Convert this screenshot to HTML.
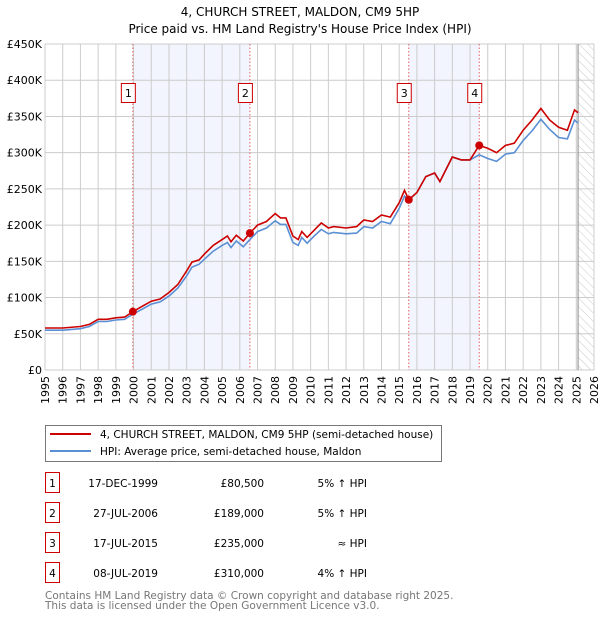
<!DOCTYPE html>
<html><head><meta charset="utf-8"><style>
body{margin:0;background:#fff;}
svg{display:block;font-family:"DejaVu Sans","Liberation Sans",sans-serif;}
</style></head><body>
<svg id="c" width="600" height="620" viewBox="0 0 600 620">
<defs><pattern id="hatch" width="6" height="6" patternUnits="userSpaceOnUse" patternTransform="rotate(-45)"><line x1="0" y1="0" x2="0" y2="6" stroke="#bbb" stroke-width="0.8"/></pattern></defs>
<text x="300" y="16" text-anchor="middle" font-size="12" fill="#000">4, CHURCH STREET, MALDON, CM9 5HP</text>
<text x="300" y="33" text-anchor="middle" font-size="12" fill="#000">Price paid vs. HM Land Registry's House Price Index (HPI)</text>
<g id="bands"></g><g id="grid"></g><g id="vlines"></g><g id="series"></g><g id="ticks"></g>
<g>
<rect x="45.5" y="425.5" width="396" height="36" fill="#fff" stroke="#777"/>
<line x1="50" y1="434" x2="91" y2="434" stroke="#cc0000" stroke-width="2"/>
<text x="100" y="438" font-size="10.5">4, CHURCH STREET, MALDON, CM9 5HP (semi-detached house)</text>
<line x1="50" y1="451" x2="91" y2="451" stroke="#5b8fd4" stroke-width="2"/>
<text x="100" y="455" font-size="10.5">HPI: Average price, semi-detached house, Maldon</text>
</g>
<g id="table" font-size="10.5"></g>
<text x="45" y="599" font-size="10.5" fill="#777">Contains HM Land Registry data © Crown copyright and database right 2025.</text>
<text x="45" y="609" font-size="10.5" fill="#777">This data is licensed under the Open Government Licence v3.0.</text>
</svg>
<script>
const years=[1995,1996,1997,1997.5,1998,1998.5,1999,1999.5,1999.96,2000.5,2001,2001.5,2002,2002.5,2003,2003.3,2003.7,2004,2004.5,2005,2005.3,2005.5,2005.8,2006.2,2006.57,2007,2007.5,2008,2008.3,2008.6,2009,2009.3,2009.5,2009.8,2010.2,2010.6,2011,2011.3,2012,2012.6,2013,2013.5,2014,2014.5,2015,2015.3,2015.54,2016,2016.5,2017,2017.3,2018,2018.5,2019,2019.52,2020,2020.5,2021,2021.5,2022,2022.5,2023,2023.5,2024,2024.5,2024.9,2025.1];
const redVals=[58,58,60,63,70,70,72,73,80.5,88,95,98,107,118,137,149,152,160,172,180,185,177,186,178,189,200,205,216,210,210,185,180,191,183,193,203,196,198,196,198,207,205,214,211,231,248,235,245,267,272,260,294,290,290,310,306,300,310,313,331,345,361,345,335,331,359,355];
const hpiVals=[55,55,57,60,67,67,69,70,77,84,91,94,102,113,130,142,146,153,164,172,176,169,178,170,180,191,196,206,201,201,176,172,183,175,185,194,188,190,188,189,198,196,205,202,223,240,235,245,267,272,260,294,290,290,297,292,288,298,300,317,330,346,332,321,319,345,341];
const yTicks=[0,50,100,150,200,250,300,350,400,450];
const yLabels=["£0","£50K","£100K","£150K","£200K","£250K","£300K","£350K","£400K","£450K"];
const saleYears=[1999.96,2006.57,2015.54,2019.52];
const saleVals=[80.5,189,235,310];
const saleDates=["17-DEC-1999","27-JUL-2006","17-JUL-2015","08-JUL-2019"];
const salePrices=["£80,500","£189,000","£235,000","£310,000"];
const saleRel=["5% ↑ HPI","5% ↑ HPI","≈ HPI","4% ↑ HPI"];
const X0=45,X1=594,Y0=370,Y1=44,yr0=1995,yr1=2026,vmax=450;
const xs=y=>X0+(y-yr0)/(yr1-yr0)*(X1-X0);
const ys=v=>Y0-v/vmax*(Y0-Y1);
const NS="http://www.w3.org/2000/svg";
function mk(tag,attrs,parent,text){const e=document.createElementNS(NS,tag);for(const k in attrs)e.setAttribute(k,attrs[k]);if(text!==undefined)e.textContent=text;document.getElementById(parent).appendChild(e);return e;}
let b=mk('rect',{x:xs(saleYears[0]),y:Y1,width:xs(saleYears[1])-xs(saleYears[0]),height:Y0-Y1,fill:'#f2f5fd'},'bands');


b=mk('rect',{x:xs(saleYears[2]),y:Y1,width:xs(saleYears[3])-xs(saleYears[2]),height:Y0-Y1,fill:'#f2f5fd'},'bands');


b=mk('rect',{x:xs(2025.1),y:Y1,width:X1-xs(2025.1),height:Y0-Y1,fill:'url(#hatch)'},'bands');


for(let y=yr0;y<=yr1;y++){const g=mk('line',{x1:xs(y),x2:xs(y),y1:Y1,y2:Y0,stroke:'#ccc','stroke-width':1},'grid');


const t=mk('text',{x:0,y:0,'font-size':11,transform:`translate(${xs(y)+4},${Y0+6}) rotate(-90)`,'text-anchor':'end'},'ticks',String(y));

}
yTicks.forEach((v,i)=>{const g=mk('line',{x1:X0,x2:X1,y1:ys(v),y2:ys(v),stroke:'#ccc','stroke-width':1},'grid');


const t=mk('text',{x:X0-3,y:ys(v)+4,'font-size':11,'text-anchor':'end'},'ticks',yLabels[i]);

});
const nl=mk('line',{x1:xs(2025.1),x2:xs(2025.1),y1:Y1,y2:Y0,stroke:'#888','stroke-width':1},'grid');


saleYears.forEach((s,i)=>{const l=mk('line',{x1:xs(s),x2:xs(s),y1:Y1,y2:Y0,stroke:'#e06060','stroke-dasharray':'1.5,2','stroke-width':1},'vlines');


const r=mk('rect',{x:xs(s)-11.5,y:83.5,width:14,height:19,fill:'#fff',stroke:'#cc0000'},'vlines');


const t=mk('text',{x:xs(s)-4.5,y:97,'font-size':11,'text-anchor':'middle'},'vlines',String(i+1));

});
const path=a=>a.map((v,i)=>(i?'L':'M')+xs(years[i]).toFixed(1)+','+ys(v).toFixed(1)).join('');
const hp=mk('path',{d:path(hpiVals),fill:'none',stroke:'#5b8fd4','stroke-width':1.6},'series');


const rp=mk('path',{d:path(redVals),fill:'none',stroke:'#cc0000','stroke-width':1.6},'series');


saleYears.forEach((s,i)=>{const c=mk('circle',{cx:xs(s),cy:ys(saleVals[i]),r:4,fill:'#cc0000'},'series');

});
saleDates.forEach((d,i)=>{const cy=483+i*30;
const r=mk('rect',{x:45.5,y:cy-10.5,width:14,height:20,fill:'#fff',stroke:'#cc0000'},'table');


let t=mk('text',{x:52.5,y:cy+4,'text-anchor':'middle'},'table',String(i+1));


t=mk('text',{x:158,y:cy+4,'text-anchor':'end'},'table',d);


t=mk('text',{x:264,y:cy+4,'text-anchor':'end'},'table',salePrices[i]);


t=mk('text',{x:367,y:cy+4,'text-anchor':'end'},'table',saleRel[i]);

});
</script>
</body></html>
